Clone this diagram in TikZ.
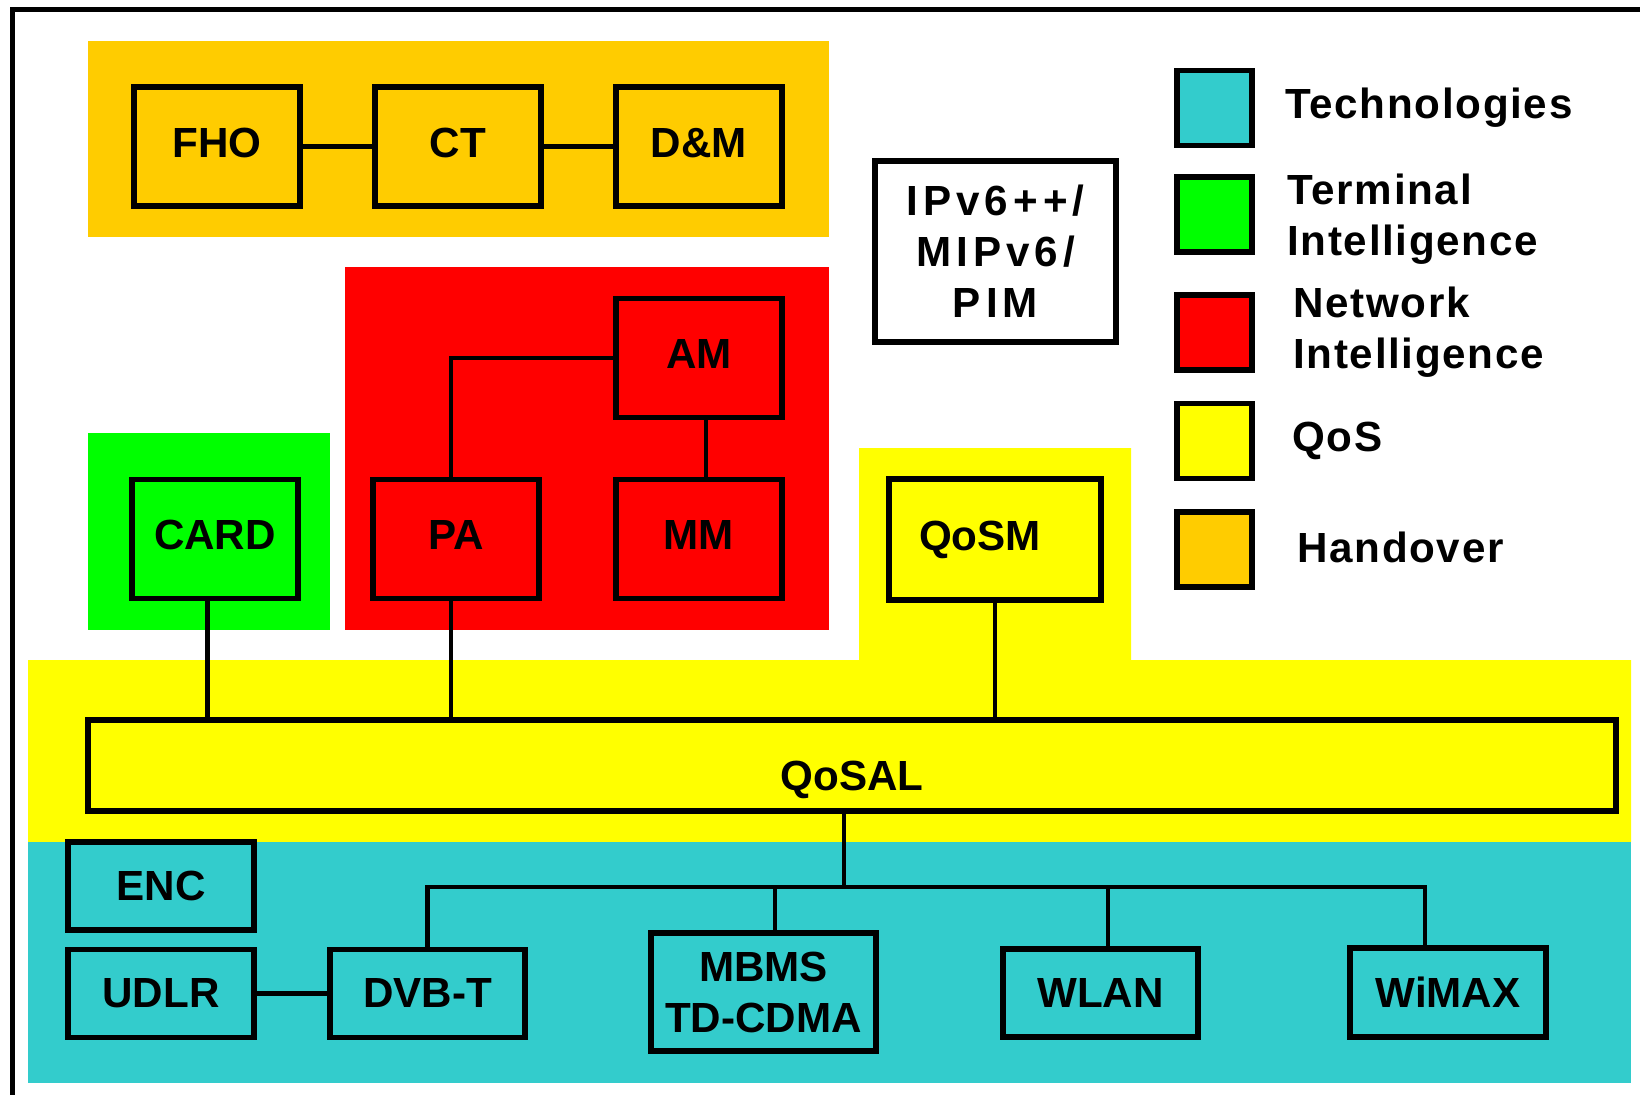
\documentclass[tikz,border=0pt]{standalone}
\usepackage{fontspec}
\setmainfont{Liberation Sans}
\newfontfamily\legfont[LetterSpace=4]{Liberation Sans}
\newfontfamily\ipvfont[LetterSpace=12]{Liberation Sans}
\usetikzlibrary{positioning}
\definecolor{hoorange}{HTML}{FFCC00}
\definecolor{netred}{HTML}{FF0000}
\definecolor{termgreen}{HTML}{00FF00}
\definecolor{qosyellow}{HTML}{FFFF00}
\definecolor{techteal}{HTML}{33CCCC}

\begin{document}
\begin{tikzpicture}[
  x=0.02cm, y=-0.02cm,
  blk/.style={draw, line width=0.11cm, fill=#1, minimum width=3.32cm, minimum height=2.38cm,
              inner sep=0pt, outer sep=0pt, align=center, font=\fontsize{24}{29}\selectfont\bfseries},
  ho/.style={blk=hoorange, text depth=0.16cm},
  net/.style={blk=netred, text depth=0.16cm},
  term/.style={blk=termgreen, text depth=0.16cm},
  qos/.style={blk=qosyellow},
  tech/.style={blk=techteal, minimum width=3.9cm, minimum height=1.76cm},
  legbox/.style={draw, line width=0.11cm, fill=#1, minimum width=1.5cm, minimum height=1.5cm,
                 inner sep=0pt, outer sep=0pt},
  legtxt/.style={anchor=west, inner sep=0pt, align=left, font=\legfont\fontsize{24}{29}\selectfont\bfseries},
  link/.style={line width=0.09cm}
]
\useasboundingbox (0,0) rectangle (1640,1095);

% Frame
\draw[line width=0.1cm] (1640,10) -- (12.5,10) -- (12.5,1095);

% Areas
\fill[hoorange] (88,41) rectangle (829,237);
\fill[netred] (345,267) rectangle (829,630);
\fill[termgreen] (88,433) rectangle (330,630);
\fill[qosyellow] (28,660) -- (859,660) -- (859,448) -- (1131,448) -- (1131,660)
  -- (1631,660) -- (1631,842) -- (28,842) -- cycle;
\fill[techteal] (28,842) rectangle (1631,1083);

% Handover
\node[ho] (fho) at (217,146.5) {FHO};
\node[ho, right=1.5cm of fho] (ct) {CT};
\node[ho, right=1.5cm of ct] (dm) {D\&M};

% Protocols
\node[blk=white, minimum width=4.82cm, minimum height=3.62cm,
      font=\ipvfont\fontsize{24}{29}\selectfont\bfseries] (ipv) at (995.5,251.5) {IPv6++/\\MIPv6/\\PIM};

% Network intelligence
\node[net, below=1.85cm of dm] (am) {AM};
\node[net, below=1.24cm of am] (mm) {MM};
\node[net, left=1.54cm of mm] (pa) {PA};

% Terminal intelligence
\node[term, left=1.5cm of pa] (card) {CARD};

% QoS
\node[qos, minimum width=4.24cm, minimum height=2.42cm] (qosm) at (995,539.5) {\hspace*{-0.6cm}QoSM};
\node[qos, minimum width=30.56cm, minimum height=1.82cm, text height=0.98cm, text depth=0pt] (qosal) at (852,765.5) {QoSAL};

% Technologies
\node[tech, minimum width=3.72cm] (enc) at (161,886) {ENC};
\node[tech, minimum width=3.72cm, below=0.39cm of enc] (udlr) {UDLR};
\node[tech, right=1.52cm of udlr] (dvbt) {DVB-T};
\node[tech, minimum width=4.5cm, minimum height=2.36cm] (mbms) at (763.5,992) {MBMS\\TD-CDMA};
\node[tech] (wlan) at (1100.5,993) {WLAN};
\node[tech, minimum width=3.92cm, minimum height=1.78cm] (wimax) at (1448,992.5) {WiMAX};

% Legend
\node[legbox=techteal] (lgtech) at (1214.5,108) {};
\node[legbox=termgreen] (lgterm) at (1214.5,214.5) {};
\node[legbox=netred] (lgnet) at (1214.5,332.5) {};
\node[legbox=qosyellow] (lgqos) at (1214.5,441) {};
\node[legbox=hoorange] (lgho) at (1214.5,549.5) {};
\node[legtxt, right=0.66cm of lgtech] (lgtechtxt) {Technologies};
\node[legtxt, right=0.7cm of lgterm, yshift=-0.1cm] (lgtermtxt) {Terminal\\Intelligence};
\node[legtxt, right=0.82cm of lgnet] (lgnettxt) {Network\\Intelligence};
\node[legtxt, right=0.8cm of lgqos] (lgqostxt) {QoS};
\node[legtxt, right=0.9cm of lgho, yshift=0.05cm] (lghotxt) {Handover};

% Links - handover
\draw[link] (fho) -- (ct);
\draw[link] (ct) -- (dm);

% Links - network
\coordinate (paknee) at (451,358);
\draw[link] (am.west) -| (pa.north -| paknee);
\draw[link] ([xshift=0.14cm]am.south) -- ([xshift=0.14cm]mm.north);

% Links - to QoSAL
\draw[link] ([xshift=-0.15cm]card.south) -- ([xshift=-0.15cm]card.south |- qosal.north);
\draw[link] (pa.south -| paknee) -- (qosal.north -| paknee);
\draw[link] (qosm.south) -- (qosm.south |- qosal.north);

% Links - technologies
\coordinate (busmid) at (844,887);
\coordinate (busr) at (1425,887);
\coordinate (mbmstap) at (775,887);
\coordinate (wlantap) at (1108,887);
\draw[link] (qosal.south -| busmid) -- (busmid);
\draw[link] (dvbt.north) |- (busr) -- (wimax.north -| busr);
\draw[link] (mbmstap) -- (mbms.north -| mbmstap);
\draw[link] (wlantap) -- (wlan.north -| wlantap);
\draw[link] (udlr) -- (dvbt);

\end{tikzpicture}
\end{document}
